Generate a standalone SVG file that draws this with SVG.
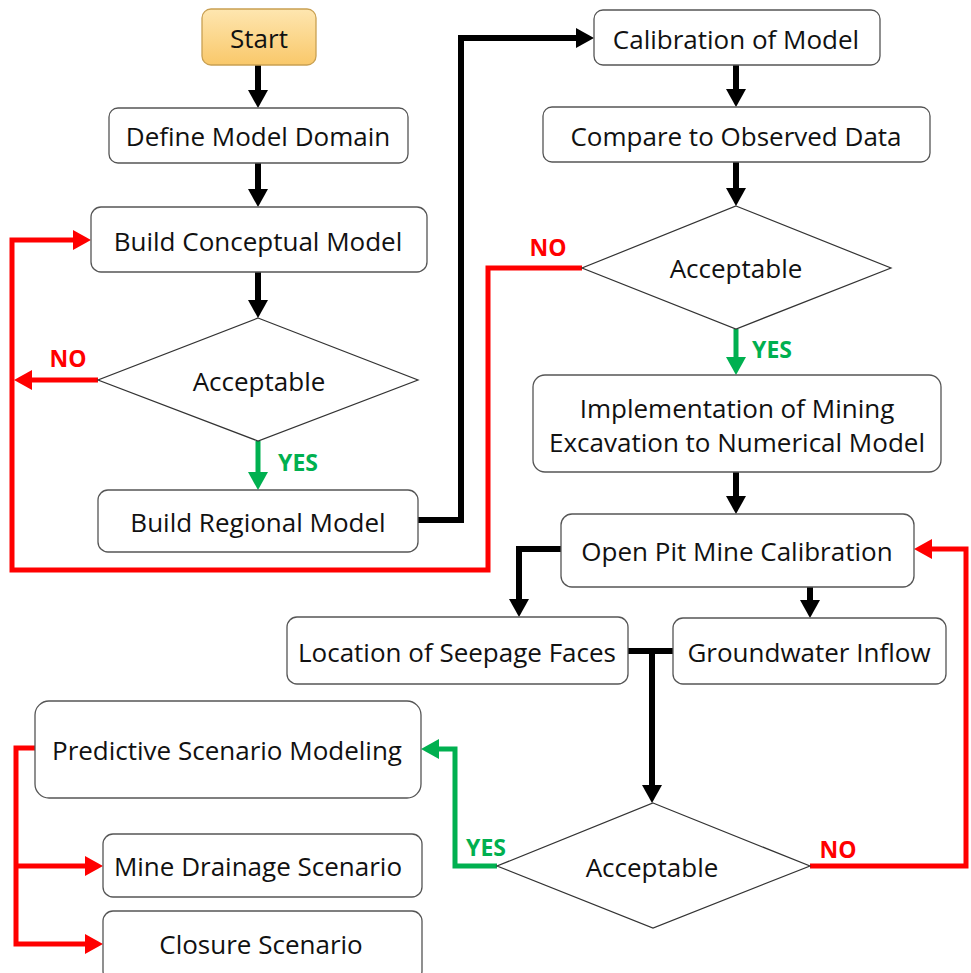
<svg xmlns="http://www.w3.org/2000/svg" width="971" height="973" viewBox="0 0 971 973">
<defs>
<linearGradient id="startGrad" x1="0" y1="0" x2="0" y2="1">
<stop offset="0" stop-color="#fee6b0"/>
<stop offset="1" stop-color="#f9c86a"/>
</linearGradient>
<marker id="ak" markerUnits="userSpaceOnUse" markerWidth="18" markerHeight="20" viewBox="0 0 18 20" refX="0" refY="10" orient="auto"><path d="M0,0 L18,10 L0,20 z" fill="#000"/></marker>
<marker id="ar" markerUnits="userSpaceOnUse" markerWidth="18" markerHeight="20" viewBox="0 0 18 20" refX="0" refY="10" orient="auto"><path d="M0,0 L18,10 L0,20 z" fill="#ff0000"/></marker>
<marker id="ag" markerUnits="userSpaceOnUse" markerWidth="18" markerHeight="20" viewBox="0 0 18 20" refX="0" refY="10" orient="auto"><path d="M0,0 L18,10 L0,20 z" fill="#00b050"/></marker>
</defs>
<style>
.box{fill:#fff;stroke:#555;stroke-width:1.3}
.dia{fill:#fff;stroke:#333;stroke-width:1.2}
.t{font-family:"Open Sans","Liberation Sans",sans-serif;font-size:26px;fill:#111;text-anchor:middle;dominant-baseline:central}
.k{fill:none;stroke:#000;stroke-width:6}
.r{fill:none;stroke:#ff0000;stroke-width:5}
.g{fill:none;stroke:#00b050;stroke-width:5}
.lr{font-family:"Open Sans","Liberation Sans",sans-serif;font-size:23px;font-weight:bold;fill:#ff0000;text-anchor:middle;dominant-baseline:central}
.lg{font-family:"Open Sans","Liberation Sans",sans-serif;font-size:23px;font-weight:bold;fill:#00b050;text-anchor:middle;dominant-baseline:central}
</style>
<g id="connectors">
<path class="k" d="M258,65 V90" marker-end="url(#ak)"/>
<path class="k" d="M258,163 V189" marker-end="url(#ak)"/>
<path class="k" d="M258,272 V300" marker-end="url(#ak)"/>
<path class="g" d="M258,441 V472" marker-end="url(#ag)"/>
<path class="r" d="M98,380 H32" marker-end="url(#ar)"/>
<path class="r" d="M582,268 H488 V570 H12 V240 H73" marker-end="url(#ar)"/>
<path class="k" d="M418,520 H461 V38 H576" marker-end="url(#ak)"/>
<path class="k" d="M736,65 V89" marker-end="url(#ak)"/>
<path class="k" d="M736,162 V188" marker-end="url(#ak)"/>
<path class="g" d="M736,329 V357" marker-end="url(#ag)"/>
<path class="k" d="M736,472 V496" marker-end="url(#ak)"/>
<path class="k" d="M561,549 H519 V599" marker-end="url(#ak)"/>
<path class="k" d="M810,587 V600" marker-end="url(#ak)"/>
<path class="k" d="M628,651 H673"/>
<path class="k" d="M652,651 V785" marker-end="url(#ak)"/>
<path class="r" d="M810,866 H966 V549 H932" marker-end="url(#ar)"/>
<path class="g" d="M497,866 H455 V749 H439" marker-end="url(#ag)"/>
<path class="r" d="M35,748 H16 V944 H85" marker-end="url(#ar)"/>
<path class="r" d="M16,866 H85" marker-end="url(#ar)"/>
<text class="lr" x="68" y="358">NO</text>
<text class="lg" x="298" y="462">YES</text>
<text class="lr" x="548" y="247">NO</text>
<text class="lg" x="772" y="349">YES</text>
<text class="lr" x="838" y="849">NO</text>
<text class="lg" x="486" y="847">YES</text>
</g>
<g id="start"><rect x="202" y="9" width="114" height="56" rx="9" fill="url(#startGrad)" stroke="#c9a052" stroke-width="1.3"/><text class="t" x="259" y="38">Start</text></g>
<g id="define"><rect class="box" x="109" y="108" width="299" height="55" rx="9"/><text class="t" x="258" y="136">Define Model Domain</text></g>
<g id="conceptual"><rect class="box" x="91" y="207" width="336" height="65" rx="10"/><text class="t" x="258" y="241">Build Conceptual Model</text></g>
<g id="acc1"><polygon class="dia" points="258,318 418,380 258,441 98,380"/><text class="t" x="259" y="381">Acceptable</text></g>
<g id="regional"><rect class="box" x="98" y="490" width="320" height="62" rx="10"/><text class="t" x="258" y="522">Build Regional Model</text></g>
<g id="calibration"><rect class="box" x="594" y="10" width="286" height="55" rx="9"/><text class="t" x="736" y="39">Calibration of Model</text></g>
<g id="compare"><rect class="box" x="543" y="107" width="387" height="55" rx="9"/><text class="t" x="736" y="136">Compare to Observed Data</text></g>
<g id="acc2"><polygon class="dia" points="736,206 891,268 736,329 582,268"/><text class="t" x="736" y="268">Acceptable</text></g>
<g id="implementation"><rect class="box" x="533" y="375" width="408" height="97" rx="12"/><text class="t" x="737" y="408">Implementation of Mining</text><text class="t" x="737" y="442">Excavation to Numerical Model</text></g>
<g id="openpit"><rect class="box" x="561" y="514" width="353" height="73" rx="11"/><text class="t" x="737" y="551">Open Pit Mine Calibration</text></g>
<g id="seepage"><rect class="box" x="287" y="617" width="341" height="67" rx="10"/><text class="t" x="457" y="652">Location of Seepage Faces</text></g>
<g id="groundwater"><rect class="box" x="673" y="618" width="273" height="66" rx="10"/><text class="t" x="809" y="652">Groundwater Inflow</text></g>
<g id="acc3"><polygon class="dia" points="653,803 810,866 653,928 497,866"/><text class="t" x="652" y="867">Acceptable</text></g>
<g id="predictive"><rect class="box" x="35" y="701" width="386" height="97" rx="14"/><text class="t" x="227" y="750">Predictive Scenario Modeling</text></g>
<g id="drainage"><rect class="box" x="103" y="834" width="319" height="63" rx="10"/><text class="t" x="258" y="866">Mine Drainage Scenario</text></g>
<g id="closure"><rect class="box" x="103" y="911" width="319" height="70" rx="10"/><text class="t" x="261" y="944">Closure Scenario</text></g>
</svg>
